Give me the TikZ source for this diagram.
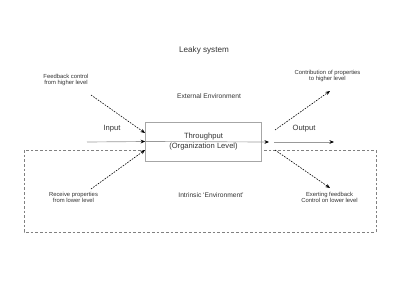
\documentclass[tikz,border=0pt]{standalone}
\usepackage{fontspec}
\setmainfont{Liberation Sans}
\usetikzlibrary{arrows.meta}

\begin{document}
\begin{tikzpicture}[x=0.75pt, y=-0.75pt, >={Stealth[length=3.4pt,width=2.8pt,black]},
  txt/.style={text=black!80, inner sep=0pt, font=\fontsize{5.7}{7}\selectfont},
  small/.style={text=black!80, inner sep=0pt, align=center, font=\fontsize{4.4}{5}\selectfont},
  flow/.style={->, draw=black!40, line width=0.5pt},
  feed/.style={->, dash pattern=on 1.2pt off 0.9pt, line width=0.45pt}]
  \useasboundingbox (0,0) rectangle (400,300);
  % intrinsic environment
  \draw[black!50, dash pattern=on 2pt off 1.5pt, line width=0.45pt] (24,150) rectangle (376,232);
  % the organization
  \node[draw=black!35, fill=white, line width=0.5pt, minimum width=87pt, minimum height=29pt,
        inner sep=0pt, align=center, text=black!80, font=\fontsize{5.7}{8}\selectfont]
        (org) at (203.5,141.5) {Throughput\\(Organization Level)};
  \node[txt, font=\fontsize{6.1}{7}\selectfont] (title) at (204,50) {Leaky system};
  \node[txt, font=\fontsize{5}{6}\selectfont] (ext) at (209,96) {External Environment};
  \node[txt, font=\fontsize{5}{6}\selectfont] (intr) at (211,195) {Intrinsic `Environment'};
  \node[txt] (inlbl) at (112,129) {Input};
  \node[txt] (outlbl) at (304,129) {Output};
  % flow through the system
  \coordinate (in) at (87,142);
  \coordinate (thru) at (269,142);
  \coordinate (out0) at (274,142);
  \coordinate (out1) at (334,142);
  \draw[flow] (in) -- (org.west);
  \draw[flow] (org.west) -- (thru);
  \draw[flow] (out0) -- (out1);
  % exchanges with other levels
  \node[small] (fbhigh) at (66,80) {Feedback control\\from higher level};
  \node[small] (rcvlow) at (73.5,197.5) {Receive properties\\from lower level};
  \node[small] (conhigh) at (327.5,76) {Contribution of properties\\to higher level};
  \node[small] (exlow) at (329.5,197.5) {Exerting feedback\\Control on lower level};
  \coordinate (a1) at (91,95);   \coordinate (b1) at (145,133);
  \coordinate (a2) at (91,189);  \coordinate (b2) at (145,150);
  \coordinate (a3) at (275,130); \coordinate (b3) at (330,91);
  \coordinate (a4) at (275,150); \coordinate (b4) at (330,188);
  \draw[feed] (a1) -- (b1);
  \draw[feed] (a2) -- (b2);
  \draw[feed] (a3) -- (b3);
  \draw[feed] (a4) -- (b4);
\end{tikzpicture}
\end{document}
